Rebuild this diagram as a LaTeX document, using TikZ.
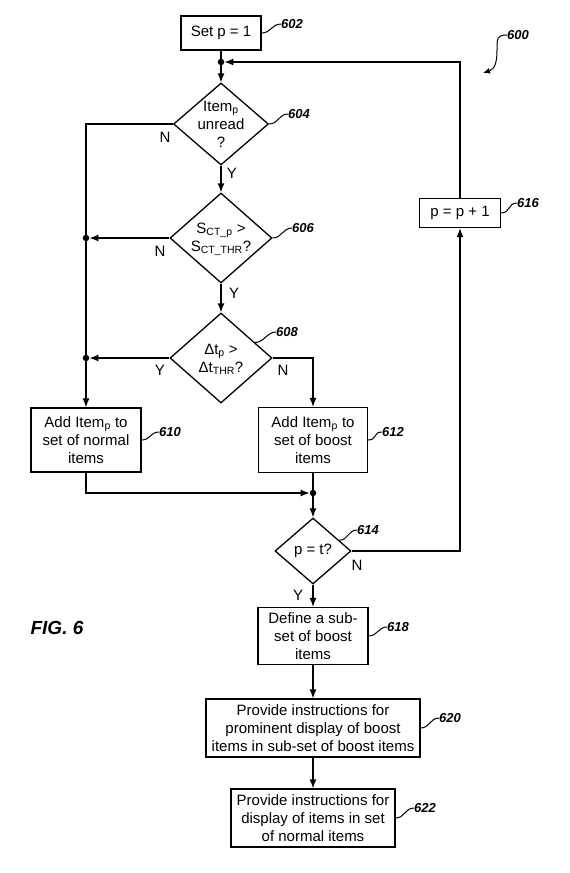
\documentclass[tikz,border=0pt]{standalone}
\usepackage{fontspec}
\setmainfont{Liberation Sans}
\usetikzlibrary{shapes.geometric,arrows.meta,calc}

\tikzset{
  stepbox/.style={draw,line width=1.3pt,align=center,inner sep=0pt,font=\fontsize{15}{18}\selectfont},
  decision/.style={draw,diamond,line width=1.3pt,inner sep=0pt},
  dectext/.style={align=center,font=\fontsize{15}{18}\selectfont},
  yn/.style={font=\fontsize{15}{18}\selectfont},
  refnum/.style={anchor=west,inner sep=0pt,font=\fontsize{13}{15}\selectfont\bfseries\itshape},
  leader/.style={line width=1pt},
  flow/.style={line width=1.3pt,-{Latex[length=9pt,width=7pt]}},
  plain/.style={line width=1.3pt},
  dot/.style={circle,fill,inner sep=0pt,minimum size=6.5pt}
}

\begin{document}
\begin{tikzpicture}[x=1pt,y=-1pt]
\useasboundingbox (0,0) rectangle (570,873);

% boxes
\node[stepbox,minimum width=80,minimum height=34] (b602) at (221,33) {Set p = 1};
\node[stepbox,minimum width=110,minimum height=64] (b610) at (86,440) {Add Item\textsubscript{p} to\\set of normal\\items};
\node[stepbox,minimum width=109,minimum height=65] (b612) at (313,440) {Add Item\textsubscript{p} to\\set of boost\\items};
\node[stepbox,minimum width=81,minimum height=29] (b616) at (460,213) {p = p + 1};
\node[stepbox,minimum width=110,minimum height=57] (b618) at (313,636) {Define a sub-\\set of boost\\items};
\node[stepbox,minimum width=214,minimum height=58] (b620) at (313,728) {Provide instructions for\\prominent display of boost\\items in sub-set of boost items};
\node[stepbox,minimum width=164,minimum height=58] (b622) at (313,818) {Provide instructions for\\display of items in set\\of normal items};

% decisions
\node[decision,minimum width=95,minimum height=82] (d604) at (221,124) {};
\node[dectext] (t604) at (221,124) {Item\textsubscript{p}\\unread\\?};
\node[decision,minimum width=102,minimum height=90] (d606) at (221,238) {};
\node[dectext] (t606) at (221,239) {S\textsubscript{CT\_p} >\\S\textsubscript{CT\_THR}?};
\node[decision,minimum width=102,minimum height=90] (d608) at (221,358) {};
\node[dectext] (t608) at (221,359) {Δt\textsubscript{p} >\\Δt\textsubscript{THR}?};
\node[decision,minimum width=76,minimum height=66] (d614) at (313,551) {};
\node[dectext] (t614) at (313,551) {p = t?};

% junctions
\node[dot] (j1) at (221,62) {};
\node[dot] (j2) at (86,238) {};
\node[dot] (j3) at (86,358) {};
\node[dot] (j4) at (313,493) {};

% flow
\draw[plain] (b602.south) -- (j1);
\draw[flow] (j1) -- (d604.north);
\draw[flow] (d604.south) -- (d606.north);
\draw[flow] (d606.south) -- (d608.north);
\draw[plain] (d604.west) -| (j2);
\draw[plain] (j2) -- (j3);
\draw[flow] (j3) -- (b610.north);
\draw[flow] (d606.west) -- (j2);
\draw[flow] (d608.west) -- (j3);
\draw[flow] (d608.east) -| (b612.north);
\draw[flow] (b610.south) |- (j4);
\draw[plain] (b612.south) -- (j4);
\draw[flow] (j4) -- (d614.north);
\draw[flow] (d614.east) -| (b616.south);
\draw[flow] (b616.north) |- (j1);
\draw[flow] (d614.south) -- (b618.north);
\draw[flow] (b618.south) -- (b620.north);
\draw[flow] (b620.south) -- (b622.north);

% Y / N
\node[yn] (n604) at (165,137) {N};
\node[yn] (y604) at (232,173) {Y};
\node[yn] (n606) at (160,251) {N};
\node[yn] (y606) at (234,293) {Y};
\node[yn] (y608) at (160,370) {Y};
\node[yn] (n608) at (283,370) {N};
\node[yn] (n614) at (357,565) {N};
\node[yn] (y614) at (298,595) {Y};

% reference numerals
\node[refnum] (l600) at (507,35) {600};
\node[refnum] (l602) at (281,24) {602};
\node[refnum] (l604) at (288,114) {604};
\node[refnum] (l606) at (292,228) {606};
\node[refnum] (l608) at (276,332) {608};
\node[refnum] (l610) at (159,432) {610};
\node[refnum] (l612) at (382,432) {612};
\node[refnum] (l614) at (357,530) {614};
\node[refnum] (l616) at (517,203) {616};
\node[refnum] (l618) at (387,627) {618};
\node[refnum] (l620) at (439,718) {620};
\node[refnum] (l622) at (414,808) {622};

\draw[leader] (b602.east) .. controls +(9,0) and +(-9,0) .. (l602.west);
\draw[leader] (d604.east) .. controls +(9,0) and +(-9,0) .. (l604.west);
\draw[leader] (d606.east) .. controls +(9,0) and +(-9,0) .. (l606.west);
\draw[leader] ($(d608.north)!0.66!(d608.east)$) .. controls +(9,0) and +(-9,0) .. (l608.west);
\draw[leader] (b610.east) .. controls +(9,0) and +(-9,0) .. (l610.west);
\draw[leader] (b612.east) .. controls +(9,0) and +(-9,0) .. (l612.west);
\draw[leader] ($(d614.north)!0.68!(d614.east)$) .. controls +(9,0) and +(-9,0) .. (l614.west);
\draw[leader] (b616.east) .. controls +(9,0) and +(-9,0) .. (l616.west);
\draw[leader] (b618.east) .. controls +(9,0) and +(-9,0) .. (l618.west);
\draw[leader] (b620.east) .. controls +(9,0) and +(-9,0) .. (l620.west);
\draw[leader] (b622.east) .. controls +(9,0) and +(-9,0) .. (l622.west);

\coordinate (e600) at (483,73);
\draw[leader,-{Latex[length=7pt,width=6pt]}] (l600.west) .. controls +(-10,0) and +(0,-12) .. (497,50) .. controls +(0,12) and +(12,-4) .. (e600);

\node[font=\fontsize{19}{22}\selectfont\bfseries\itshape] (fig) at (57,628) {FIG. 6};
\end{tikzpicture}
\end{document}
